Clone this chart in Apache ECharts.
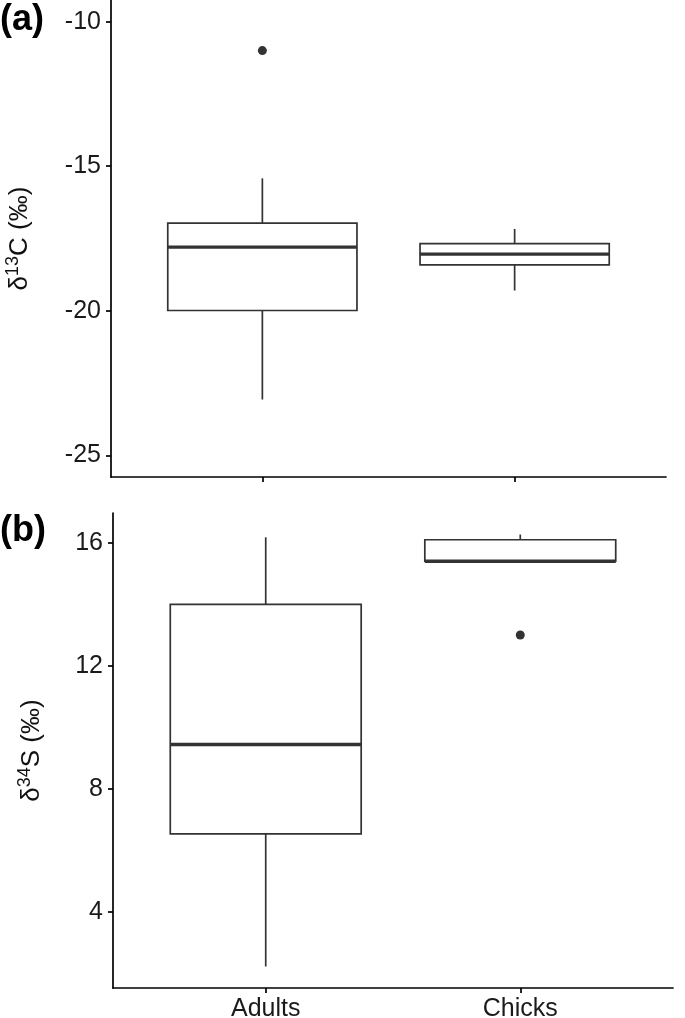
<!DOCTYPE html>
<html>
<head>
<meta charset="utf-8">
<script src="https://cdn.jsdelivr.net/npm/echarts@6/dist/echarts.min.js"></script>
<style>
html,body{margin:0;padding:0;background:#fff;}
#chart{width:685px;height:1018px;}
</style>
</head>
<body>
<div id="chart"></div>
<script>
// ---- data ----
const categories = ['Adults', 'Chicks'];
const xPositions = [1, 2];

// panel (a) δ13C
const carbonLow  = [-23.07, -19.30];
const carbonQ1   = [-19.99, -18.41];
const carbonMed  = [-17.80, -18.04];
const carbonQ3   = [-16.97, -17.68];
const carbonHigh = [-15.42, -17.17];
const carbonOutliers = [[1, -11.0]];
const carbonTicks = [-25, -20, -15, -10];

// panel (b) δ34S
const sulfurLow  = [2.23, 15.41];
const sulfurQ1   = [6.54, 15.41];
const sulfurMed  = [9.45, 15.41];
const sulfurQ3   = [14.01, 16.11];
const sulfurHigh = [16.19, 16.28];
const sulfurOutliers = [[2, 13.01]];
const sulfurTicks = [4, 8, 12, 16];

// ---- build ----
const FONT = '"Liberation Sans", Arial, Helvetica, sans-serif';
const BOX_W = 0.75;
const STROKE = '#333333';

function rows(low, q1, med, q3, high) {
  return xPositions.map((x, i) => [x, low[i], q1[i], med[i], q3[i], high[i]]);
}

function renderBox(params, api) {
  const x = api.value(0);
  const pLow = api.coord([x, api.value(1)]);
  const pQ1 = api.coord([x, api.value(2)]);
  const pMed = api.coord([x, api.value(3)]);
  const pQ3 = api.coord([x, api.value(4)]);
  const pHigh = api.coord([x, api.value(5)]);
  const half = api.size([BOX_W, 0])[0] / 2;
  const lineStyle = {stroke: STROKE, lineWidth: 1.7, fill: null};
  return {
    type: 'group',
    children: [
      {type: 'line', shape: {x1: pLow[0], y1: pLow[1], x2: pQ1[0], y2: pQ1[1]}, style: lineStyle},
      {type: 'line', shape: {x1: pQ3[0], y1: pQ3[1], x2: pHigh[0], y2: pHigh[1]}, style: lineStyle},
      {type: 'rect', shape: {x: pQ3[0] - half, y: pQ3[1], width: half * 2, height: pQ1[1] - pQ3[1]},
        style: {stroke: STROKE, lineWidth: 1.7, fill: '#ffffff'}},
      {type: 'line', shape: {x1: pMed[0] - half, y1: pMed[1], x2: pMed[0] + half, y2: pMed[1]},
        style: {stroke: STROKE, lineWidth: 3.4}}
    ]
  };
}

function yName(sup, sym) {
  return '{d|δ}{s|' + sup + '}{d|' + sym + ' (‰)}';
}
const nameRich = {
  d: {fontSize: 26, fontFamily: FONT, color: '#111', lineHeight: 32},
  s: {fontSize: 18, fontFamily: FONT, color: '#111', lineHeight: 18, verticalAlign: 'top'}
};

const axisLineStyle = {color: '#000', width: 1.7};

const option = {
  animation: false,
  backgroundColor: '#fff',
  grid: [
    {left: 111, right: 19, top: 0, bottom: 541, outerBoundsMode: 'none', containLabel: false},
    {left: 113, right: 12, top: 513, bottom: 30, outerBoundsMode: 'none', containLabel: false}
  ],
  xAxis: [
    {
      gridIndex: 0, type: 'value', min: 0.4, max: 2.6,
      splitLine: {show: false},
      axisLine: {show: true, onZero: false, lineStyle: axisLineStyle},
      axisTick: {show: true, length: 5, customValues: xPositions, lineStyle: axisLineStyle},
      axisLabel: {show: false, customValues: xPositions}
    },
    {
      gridIndex: 1, type: 'value', min: 0.4, max: 2.6,
      splitLine: {show: false},
      axisLine: {show: true, onZero: false, lineStyle: axisLineStyle},
      axisTick: {show: true, length: 5, customValues: xPositions, lineStyle: axisLineStyle},
      axisLabel: {
        show: true, customValues: xPositions, margin: 9,
        fontSize: 25, fontFamily: FONT, color: '#1a1a1a',
        formatter: v => categories[Math.round(v) - 1] || ''
      }
    }
  ],
  yAxis: [
    {
      gridIndex: 0, type: 'value', min: -25.75, max: -9.25,
      splitLine: {show: false},
      axisLine: {show: true, onZero: false, lineStyle: axisLineStyle},
      axisTick: {show: true, length: 5, customValues: carbonTicks, lineStyle: axisLineStyle},
      axisLabel: {customValues: carbonTicks, margin: 10, fontSize: 25, fontFamily: FONT, color: '#1a1a1a'},
      name: yName('13', 'C'),
      nameLocation: 'middle', nameGap: 75,
      nameTextStyle: {rich: nameRich}
    },
    {
      gridIndex: 1, type: 'value', min: 1.53, max: 16.98,
      splitLine: {show: false},
      axisLine: {show: true, onZero: false, lineStyle: axisLineStyle},
      axisTick: {show: true, length: 5, customValues: sulfurTicks, lineStyle: axisLineStyle},
      axisLabel: {customValues: sulfurTicks, margin: 10, fontSize: 25, fontFamily: FONT, color: '#1a1a1a'},
      name: yName('34', 'S'),
      nameLocation: 'middle', nameGap: 65,
      nameTextStyle: {rich: nameRich}
    }
  ],
  series: [
    {
      type: 'custom', xAxisIndex: 0, yAxisIndex: 0,
      renderItem: renderBox,
      encode: {x: 0, y: [1, 2, 3, 4, 5]},
      data: rows(carbonLow, carbonQ1, carbonMed, carbonQ3, carbonHigh)
    },
    {
      type: 'scatter', xAxisIndex: 0, yAxisIndex: 0,
      symbol: 'circle', symbolSize: 9,
      itemStyle: {color: STROKE, opacity: 1},
      data: carbonOutliers
    },
    {
      type: 'custom', xAxisIndex: 1, yAxisIndex: 1,
      renderItem: renderBox,
      encode: {x: 0, y: [1, 2, 3, 4, 5]},
      data: rows(sulfurLow, sulfurQ1, sulfurMed, sulfurQ3, sulfurHigh)
    },
    {
      type: 'scatter', xAxisIndex: 1, yAxisIndex: 1,
      symbol: 'circle', symbolSize: 9,
      itemStyle: {color: STROKE, opacity: 1},
      data: sulfurOutliers
    }
  ],
  graphic: [
    {type: 'text', left: 0, top: 2,
      style: {text: '(a)', fontSize: 36, fontWeight: 'bold', fontFamily: FONT, fill: '#000'}},
    {type: 'text', left: 0, top: 513,
      style: {text: '(b)', fontSize: 36, fontWeight: 'bold', fontFamily: FONT, fill: '#000'}}
  ]
};

const chart = echarts.init(document.getElementById('chart'), null, {renderer: 'canvas'});
chart.setOption(option);
</script>
</body>
</html>
